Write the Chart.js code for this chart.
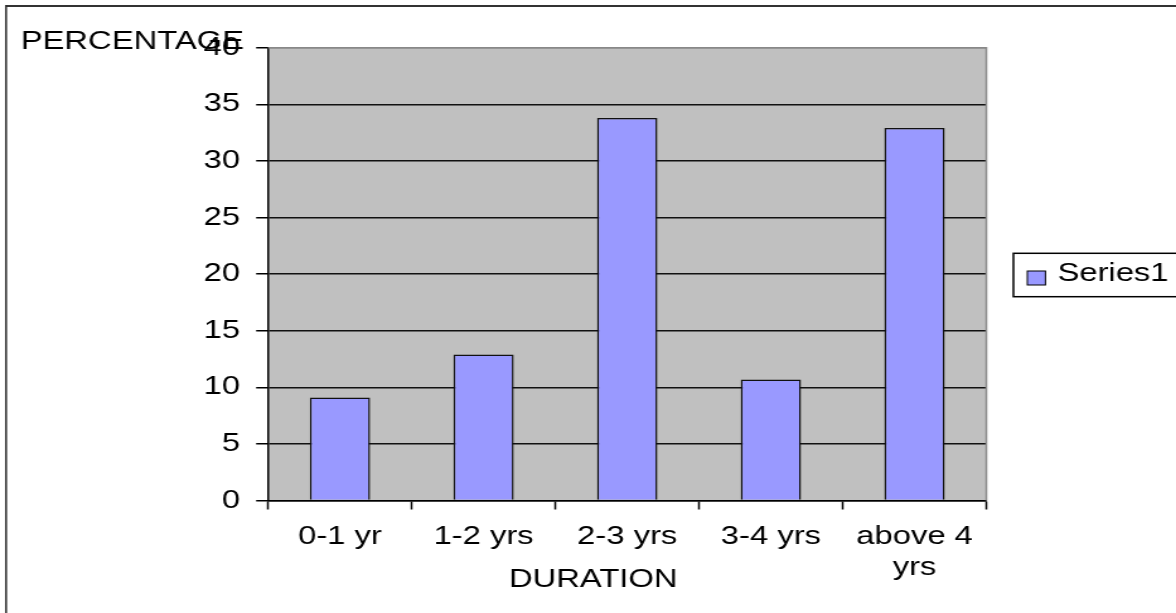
<!DOCTYPE html>
<html>
<head>
<meta charset="utf-8">
<title>Duration</title>
<script src="https://cdn.jsdelivr.net/npm/chart.js@4/dist/chart.umd.min.js"></script>
<style>
  html, body { margin: 0; padding: 0; background: #fff; overflow: hidden; }
  /* the chart is laid out on a narrower canvas and widened horizontally */
  #wrap {
    position: absolute; left: 0; top: 0;
    width: 933px; height: 613px;
    transform: scaleX(1.2605);
    transform-origin: 0 0;
  }
</style>
</head>
<body>
<div id="wrap"><canvas id="chart"></canvas></div>
<script>
// Share of respondents by duration
const categories = ['0-1 yr', '1-2 yrs', '2-3 yrs', '3-4 yrs', ['above 4', 'yrs']];
const seriesName = 'Series1';
const seriesValues = [9.1, 12.9, 33.8, 10.7, 32.9];
const yTicks = [0, 5, 10, 15, 20, 25, 30, 35, 40];
const yAxisCaption = 'PERCENTAGE';
const xAxisCaption = 'DURATION';

const FONT = "'Liberation Sans', Arial, sans-serif";
const BAR_FILL = '#9999FF';
const PLOT_BG = '#C0C0C0';

const decorations = {
  id: 'decorations',
  beforeDraw(chart) {
    const { ctx, chartArea: a } = chart;
    ctx.save();
    ctx.fillStyle = PLOT_BG;
    ctx.fillRect(a.left, a.top, a.right - a.left, a.bottom - a.top);
    ctx.restore();
  },
  afterDraw(chart) {
    const { ctx, chartArea: a, width, height } = chart;
    ctx.save();

    // plot area outline (top and right edges)
    ctx.strokeStyle = '#888';
    ctx.lineWidth = 1.5;
    ctx.beginPath();
    ctx.moveTo(a.left, a.top);
    ctx.lineTo(a.right, a.top);
    ctx.lineTo(a.right, a.bottom);
    ctx.stroke();

    // outer frame
    ctx.strokeStyle = '#333';
    ctx.lineWidth = 2;
    ctx.beginPath();
    ctx.moveTo(width + 5, 6);
    ctx.lineTo(4.8, 6);
    ctx.stroke();
    ctx.lineWidth = 1.6;
    ctx.beginPath();
    ctx.moveTo(4.8, 5);
    ctx.lineTo(4.8, height + 5);
    ctx.stroke();

    // axis captions
    ctx.fillStyle = '#000';
    ctx.font = '26px ' + FONT;
    ctx.textBaseline = 'middle';
    ctx.textAlign = 'left';
    ctx.fillText(yAxisCaption, 16.4, 41.5);
    ctx.textAlign = 'center';
    ctx.fillText(xAxisCaption, 470.6, 579.5);

    // legend
    const ds = chart.data.datasets[0];
    ctx.strokeStyle = '#000';
    ctx.lineWidth = 1.5;
    ctx.strokeRect(804, 253.3, 200, 43.4);
    ctx.fillStyle = ds.backgroundColor;
    ctx.fillRect(815, 271, 14.4, 14);
    ctx.lineWidth = 1;
    ctx.strokeRect(815, 271, 14.4, 14);
    ctx.fillStyle = '#000';
    ctx.textAlign = 'left';
    ctx.fillText(ds.label, 838.9, 273.5);

    ctx.restore();
  }
};

new Chart(document.getElementById('chart'), {
  type: 'bar',
  data: {
    labels: categories,
    datasets: [{
      label: seriesName,
      data: seriesValues,
      backgroundColor: BAR_FILL,
      borderColor: '#111',
      borderWidth: 1.5,
      categoryPercentage: 1.0,
      barPercentage: 0.42
    }]
  },
  options: {
    responsive: true,
    maintainAspectRatio: false,
    animation: false,
    layout: { padding: { top: 47.7, right: 150.5, bottom: 0, left: 0 } },
    plugins: {
      legend: { display: false },
      title: { display: false },
      tooltip: { enabled: false }
    },
    scales: {
      x: {
        offset: true,
        grid: {
          display: true,
          offset: true,
          drawOnChartArea: false,
          drawTicks: true,
          tickLength: 9,
          tickColor: '#000',
          tickWidth: 1.5
        },
        border: { display: true, color: '#000', width: 1.5 },
        ticks: {
          color: '#000',
          font: { family: FONT, size: 26, lineHeight: 1.2 },
          padding: 12,
          maxRotation: 0,
          autoSkip: false
        },
        afterFit(scale) { scale.height = 112.5; }
      },
      y: {
        min: 0,
        max: 40,
        afterBuildTicks(scale) { scale.ticks = yTicks.map(v => ({ value: v })); },
        grid: {
          color: (c) => (c.tick && c.tick.value === 40 ? '#888' : '#111'),
          lineWidth: 1.5,
          drawTicks: true,
          tickLength: 9.5,
          tickColor: '#000',
          tickWidth: 1.5
        },
        border: { display: true, color: '#000', width: 1.5 },
        ticks: {
          color: '#000',
          font: { family: FONT, size: 26 },
          padding: 12.7
        },
        afterFit(scale) { scale.width = 212.7; }
      }
    }
  },
  plugins: [decorations]
});
</script>
</body>
</html>
